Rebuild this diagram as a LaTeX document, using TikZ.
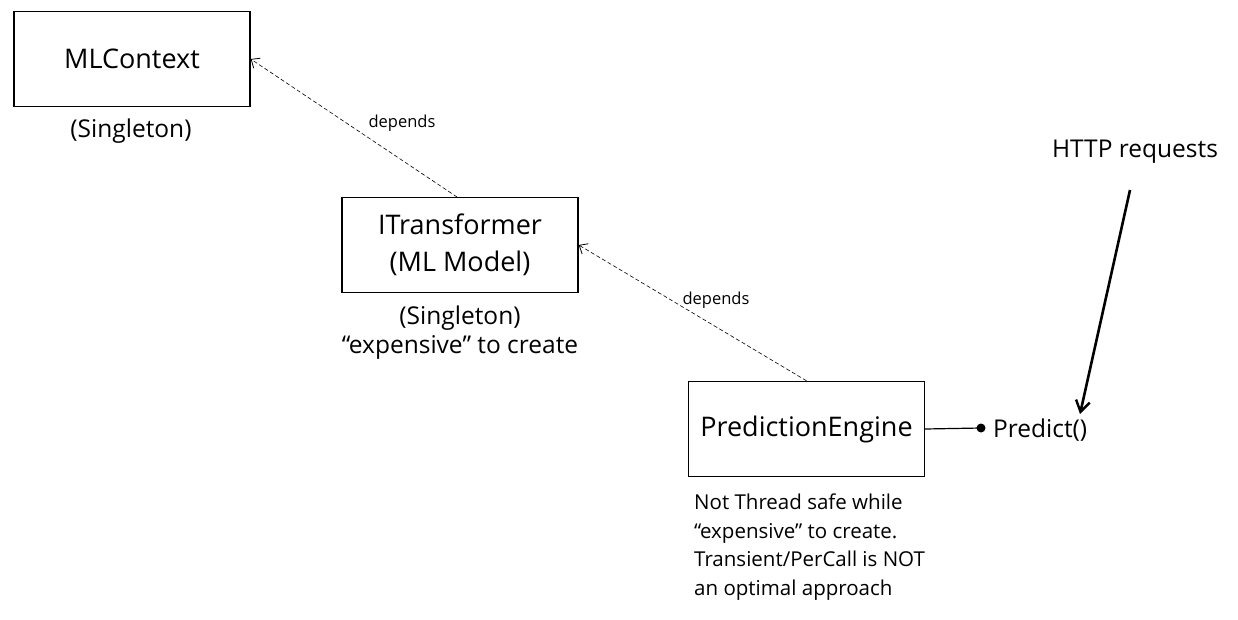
\documentclass[tikz,border=0pt]{standalone}
\usepackage{fontspec}
\setmainfont{Open Sans}
\usetikzlibrary{arrows.meta}
\tikzset{
  box/.style={draw, line width=1.4pt, minimum width=236pt, minimum height=95pt, inner sep=0pt, align=center, font=\fontsize{27}{37}\selectfont},
  ann/.style={font=\fontsize{24.5}{29}\selectfont, inner sep=0pt},
  dep/.style={dashed, dash pattern=on 4pt off 2.5pt, line width=0.6pt, -{Straight Barb[length=7pt,width=12pt,line width=0.8pt]}},
  deplbl/.style={font=\fontsize{16.5}{18}\selectfont, inner sep=0pt},
}
\begin{document}
\begin{tikzpicture}[x=1pt,y=-1pt]
\useasboundingbox (0,0) rectangle (1238,620);
\node[box] (ml) at (132,59) {MLContext};
\node[ann] (mls) at (131,131) {(Singleton)};
\node[box] (it) at (460,245) {ITransformer\\(ML Model)};
\node[ann, align=center, font=\fontsize{24.5}{29}\selectfont] (its) at (460,333) {(Singleton)\\“expensive” to create};
\node[box] (pe) at (806.5,429) {PredictionEngine};
\node[ann, align=left, anchor=north west, font=\fontsize{20.5}{28.5}\selectfont] (pen) at (694,494) {Not Thread safe while\\“expensive” to create.\\Transient/PerCall is NOT\\an optimal approach};
\coordinate (dot) at (981,428);
\node[ann, anchor=west] (pr) at (993,430) {Predict()};
\node[ann] (http) at (1135,152) {HTTP requests};
\coordinate (hs) at (1130,190);
\coordinate (ht) at (1080,414);
\coordinate (itt) at (457,197);
\node[deplbl] (d1) at (402,123) {depends};
\node[deplbl] (d2) at (716,300) {depends};
\draw[dep] (itt) -- (ml.east);
\draw[dep] (pe.north) -- (it.east);
\draw[line width=1.2pt] (pe.east) -- (dot);
\fill (dot) circle (4.5pt);
\draw[line width=2.6pt, -{Straight Barb[length=11pt,width=14pt,line width=2.4pt]}] (hs) -- (ht);
\end{tikzpicture}
\end{document}
